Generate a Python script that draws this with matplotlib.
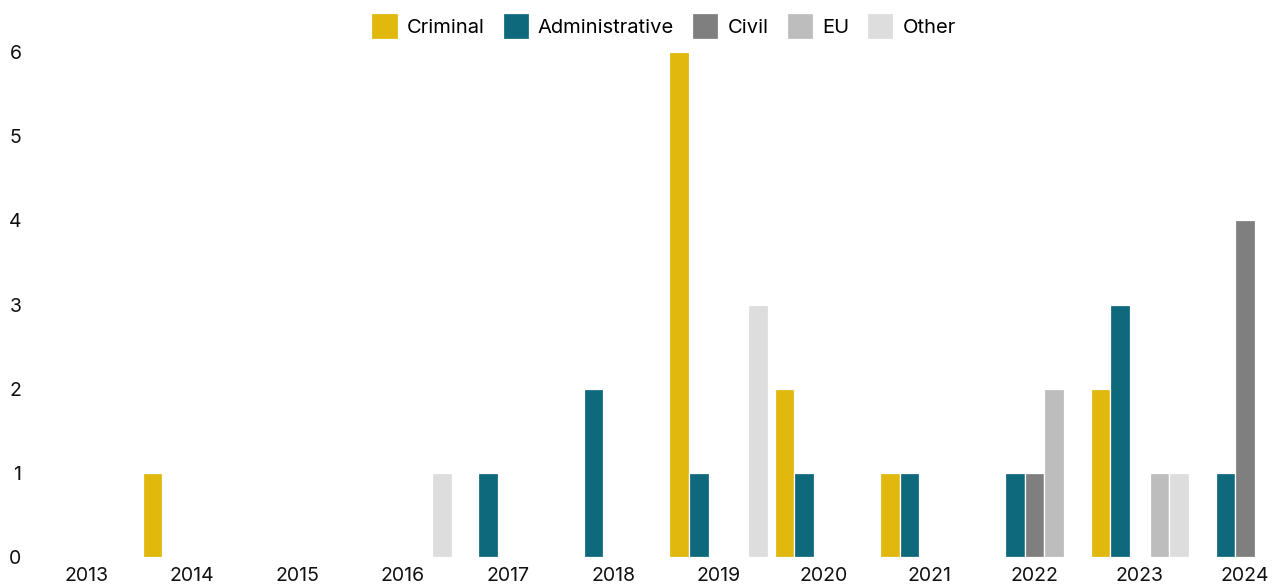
import matplotlib.pyplot as plt
import numpy as np

plt.rcParams['font.family'] = ['Inter', 'DejaVu Sans']

years = ['2013', '2014', '2015', '2016', '2017', '2018', '2019', '2020', '2021', '2022', '2023', '2024']
criminal = [0, 1, 0, 0, 0, 0, 6, 2, 1, 0, 2, 0]
administrative = [0, 0, 0, 0, 1, 2, 1, 1, 1, 1, 3, 1]
civil = [0, 0, 0, 0, 0, 0, 0, 0, 0, 1, 0, 4]
eu = [0, 0, 0, 0, 0, 0, 0, 0, 0, 2, 1, 0]
other = [0, 0, 0, 1, 0, 0, 3, 0, 0, 0, 1, 0]

series = [("Criminal", criminal, '#e1b80d'),
          ("Administrative", administrative, '#0f697d'),
          ("Civil", civil, '#7f7f7f'),
          ("EU", eu, '#bdbdbd'),
          ("Other", other, '#dddddd')]

fig = plt.figure(figsize=(12.81, 5.86), dpi=100)
ax = fig.add_axes([0.0265, 0.0495, 0.9735, 0.8615])

x = np.arange(len(years))
step = 0.187
for i, (name, vals, col) in enumerate(series):
    ax.bar(x + (i - 2) * step, vals, width=step, color=col, label=name,
           edgecolor='white', linewidth=0.9)

ax.set_xlim(-0.5, 11.34)
ax.set_ylim(0, 6)
ax.set_xticks(x)
ax.set_xticklabels(years)
ax.set_yticks(range(0, 7))
ax.tick_params(axis='both', length=0, labelsize=14, colors='#111111')
ax.tick_params(axis='x', pad=7)
ax.tick_params(axis='y', pad=9)
for s in ax.spines.values():
    s.set_visible(False)

ax.legend(loc='center', bbox_to_anchor=(0.518, 0.955), bbox_transform=fig.transFigure,
          ncol=5, frameon=False, fontsize=14.5, handlelength=1.3, handleheight=1.6,
          handletextpad=0.45, columnspacing=0.9)

plt.savefig('out.png', dpi=100)
